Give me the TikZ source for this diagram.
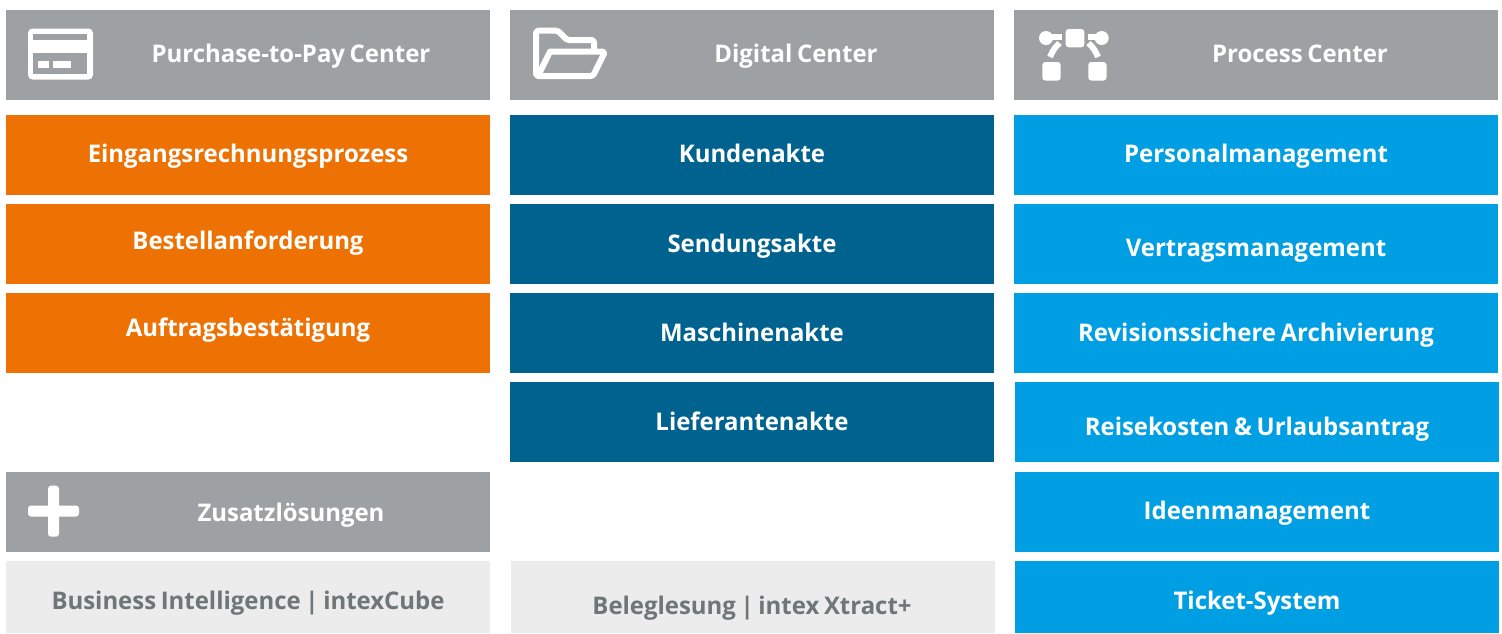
\documentclass[tikz,border=0pt]{standalone}
\usepackage{fontspec}
\setmainfont[WordSpace=0.75,FakeStretch=0.985]{Open Sans}
\definecolor{grayhead}{HTML}{9DA1A3}
\definecolor{orangebox}{HTML}{EE7203}
\definecolor{darkbox}{HTML}{00628F}
\definecolor{lightbox}{HTML}{009FE3}
\definecolor{palebox}{HTML}{ECECEC}
\definecolor{paletext}{HTML}{6F7678}
\tikzset{
 cell/.style={draw=none,inner sep=0pt,outer sep=0pt,anchor=north west,minimum width=484pt},
 headbox/.style={cell,fill=grayhead},
 orangecell/.style={cell,fill=orangebox,minimum height=80pt},
 darkcell/.style={cell,fill=darkbox,minimum height=80pt},
 lightcell/.style={cell,fill=lightbox,minimum height=80pt},
 palecell/.style={cell,fill=palebox,minimum height=72pt},
 lbl/.style={anchor=base,inner sep=0pt,font=\fontsize{24.3pt}{28pt}\selectfont\bfseries,text=white},
 palelbl/.style={lbl,text=paletext},
 iconline/.style={draw=white,line width=6pt,line join=round,line cap=round,rounded corners=2.5pt},
 procline/.style={draw=white,line width=6pt},
}
\begin{document}
\begin{tikzpicture}[x=1pt,y=-1pt]
\useasboundingbox (0,0) rectangle (1502,633);
% column 1
\node[headbox,minimum height=90pt] (h1) at (6,10) {};
\node[orangecell] (a1) at (6,115) {};
\node[orangecell] (a2) at (6,204) {};
\node[orangecell] (a3) at (6,293) {};
\node[headbox,minimum height=80pt] (h4) at (6,472) {};
\node[palecell] (a5) at (6,561) {};
% column 2
\node[headbox,minimum height=90pt] (h2) at (510,10) {};
\node[darkcell] (b1) at (510,115) {};
\node[darkcell] (b2) at (510,204) {};
\node[darkcell] (b3) at (510,293) {};
\node[darkcell] (b4) at (510,382) {};
\node[palecell] (b5) at (511,561) {};
% column 3
\node[headbox,minimum height=90pt] (h3) at (1014,10) {};
\node[lightcell] (c1) at (1014,115) {};
\node[lightcell] (c2) at (1014,204) {};
\node[lightcell] (c3) at (1014,293) {};
\node[lightcell] (c4) at (1015,382) {};
\node[lightcell] (c5) at (1015,472) {};
\node[lightcell,minimum height=72pt] (c6) at (1015,561) {};
% labels
\node[lbl] (th1) at (291,62) {Purchase-to-Pay Center};
\node[lbl] (th2) at (796,62) {Digital Center};
\node[lbl] (th3) at (1300,62) {Process Center};
\node[lbl] (ta1) at (248,162) {Eingangsrechnungsprozess};
\node[lbl] (ta2) at (248,249) {Bestellanforderung};
\node[lbl] (ta3) at (248,336) {Auftragsbestätigung};
\node[lbl] (th4) at (291,521) {Zusatzlösungen};
\node[palelbl] (ta5) at (248,609) {Business Intelligence | intexCube};
\node[lbl] (tb1) at (752,162) {Kundenakte};
\node[lbl] (tb2) at (752,252) {Sendungsakte};
\node[lbl] (tb3) at (752,341) {Maschinenakte};
\node[lbl] (tb4) at (752,430) {Lieferantenakte};
\node[palelbl] (tb5) at (752,614) {Beleglesung | intex Xtract+};
\node[lbl] (tc1) at (1256,162) {Personalmanagement};
\node[lbl] (tc2) at (1256,256) {Vertragsmanagement};
\node[lbl] (tc3) at (1256,341) {Revisionssichere Archivierung};
\node[lbl] (tc4) at (1257,435) {Reisekosten \& Urlaubsantrag};
\node[lbl] (tc5) at (1257,519) {Ideenmanagement};
\node[lbl] (tc6) at (1257,609) {Ticket-System};
% card icon
\fill[white,rounded corners=4.5pt] (28,28.5) rectangle (93,79.5);
\fill[grayhead] (33,34) rectangle (87,40);
\fill[grayhead] (33,53) rectangle (87,74);
\fill[white] (38,61) rectangle (49,68);
\fill[white] (53,61) rectangle (71,68);
% folder icon
\draw[iconline] (550,51.7) -- (540,72);
\draw[iconline] (594,50) -- (594,40) -- (567,40) -- (558,30.7) -- (536,30.7) -- (536,76) -- (593,76) -- (605,51.7) -- (550,51.7);
% process icon
\draw[procline] (1046,37) -- (1061.7,37);
\draw[procline] (1088.3,37) -- (1101.7,37);
\draw[procline] (1059.5,43) .. controls (1055,47) and (1052,52) .. (1050,57);
\draw[procline] (1088.5,43) .. controls (1093,47) and (1096,52) .. (1098,57);
\fill[white] (1046,38) circle[radius=7pt];
\fill[white] (1101.7,38) circle[radius=7pt];
\fill[white,rounded corners=3pt] (1065.7,29) rectangle (1084.3,47.3);
\fill[white,rounded corners=3pt] (1042.3,62) rectangle (1060.7,80.5);
\fill[white,rounded corners=3pt] (1088.3,62) rectangle (1106.5,80.5);
% plus icon
\fill[white,rounded corners=3pt] (28,505.5) rectangle (79,516.5);
\fill[white,rounded corners=3pt] (48,485.7) rectangle (59,536.7);
\end{tikzpicture}
\end{document}
